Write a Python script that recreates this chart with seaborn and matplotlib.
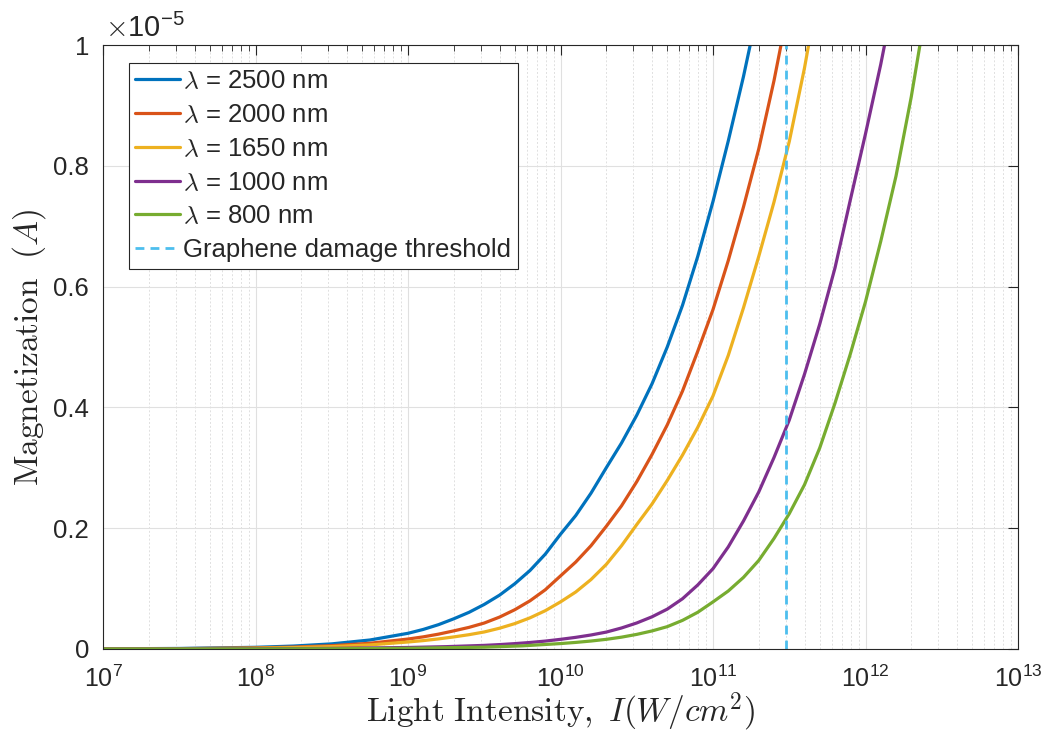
import numpy as np
import pandas as pd
import matplotlib
matplotlib.use("Agg")
import matplotlib.pyplot as plt
import seaborn as sns
from matplotlib.ticker import FuncFormatter, LogLocator, LogFormatterMathtext, NullFormatter, FixedLocator

# ---- data (intensity as log10 exponent of W/cm^2, magnetization in units of 1e-5 A) ----
labels = [r"$\lambda$ = 2500 nm", r"$\lambda$ = 2000 nm", r"$\lambda$ = 1650 nm",
          r"$\lambda$ = 1000 nm", r"$\lambda$ = 800 nm"]
colors = ["#0072BD", "#D95319", "#EDB120", "#7E2F8E", "#77AC30"]

exp_2500 = [7.0, 7.5, 8.0, 8.25, 8.5, 8.75, 9.0, 9.1, 9.2, 9.3, 9.4, 9.5, 9.6, 9.7, 9.8, 9.9, 10.0, 10.1,
            10.2, 10.3, 10.4, 10.5, 10.6, 10.7, 10.8, 10.9, 11.0, 11.1, 11.2, 11.244]
mag_2500 = [0.0003, 0.0009, 0.0028, 0.0049, 0.0085, 0.0149, 0.026, 0.0324, 0.0403, 0.050, 0.0607, 0.0738,
            0.0891, 0.108, 0.130, 0.157, 0.190, 0.221, 0.258, 0.300, 0.341, 0.387, 0.439, 0.500, 0.569,
            0.650, 0.741, 0.841, 0.948, 1.00]

exp_2000 = [7.0, 7.5, 8.0, 8.25, 8.5, 8.75, 9.0, 9.1, 9.2, 9.3, 9.4, 9.5, 9.6, 9.7, 9.8, 9.9, 10.0, 10.1,
            10.2, 10.3, 10.4, 10.5, 10.6, 10.7, 10.8, 10.9, 11.0, 11.1, 11.2, 11.3, 11.4, 11.446]
mag_2000 = [0.0002, 0.0006, 0.0018, 0.0032, 0.0055, 0.0095, 0.0165, 0.0201, 0.0246, 0.030, 0.0358, 0.0430,
            0.0528, 0.065, 0.0798, 0.098, 0.121, 0.144, 0.171, 0.203, 0.237, 0.277, 0.322, 0.371, 0.427,
            0.493, 0.562, 0.643, 0.732, 0.828, 0.941, 1.00]

exp_1650 = [7.0, 7.5, 8.0, 8.25, 8.5, 8.75, 9.0, 9.1, 9.2, 9.3, 9.4, 9.5, 9.6, 9.7, 9.8, 9.9, 10.0, 10.1,
            10.2, 10.3, 10.4, 10.5, 10.6, 10.7, 10.8, 10.9, 11.0, 11.1, 11.2, 11.3, 11.4, 11.5, 11.6, 11.627]
mag_1650 = [0.00013, 0.0004, 0.0013, 0.0023, 0.004, 0.0068, 0.0116, 0.0139, 0.0167, 0.020, 0.0237, 0.0282,
            0.0344, 0.042, 0.0516, 0.0634, 0.078, 0.0944, 0.115, 0.140, 0.171, 0.206, 0.240, 0.279, 0.321,
            0.367, 0.419, 0.486, 0.565, 0.650, 0.740, 0.840, 0.962, 1.00]

exp_1000 = [7.0, 8.0, 8.5, 9.0, 9.25, 9.5, 9.6, 9.7, 9.8, 9.9, 10.0, 10.1, 10.2, 10.3, 10.4, 10.5, 10.6,
            10.7, 10.8, 10.9, 11.0, 11.1, 11.2, 11.3, 11.4, 11.5, 11.6, 11.7, 11.8, 11.9, 12.0, 12.1, 12.125]
mag_1000 = [0.00005, 0.0004, 0.001, 0.0025, 0.0039, 0.006, 0.0073, 0.0089, 0.0108, 0.0131, 0.016, 0.0193,
            0.0232, 0.028, 0.0348, 0.0431, 0.0533, 0.066, 0.0832, 0.106, 0.133, 0.169, 0.212, 0.260,
            0.317, 0.379, 0.455, 0.538, 0.631, 0.743, 0.853, 0.968, 1.00]

exp_800 = [7.0, 8.0, 8.5, 9.0, 9.5, 9.75, 10.0, 10.1, 10.2, 10.3, 10.4, 10.5, 10.6, 10.7, 10.8, 10.9,
           11.0, 11.1, 11.2, 11.3, 11.4, 11.5, 11.6, 11.7, 11.8, 11.9, 12.0, 12.1, 12.2, 12.3, 12.357]
mag_800 = [0.00002, 0.00015, 0.0004, 0.0012, 0.003, 0.0052, 0.009, 0.0109, 0.0132, 0.016, 0.0196, 0.0242,
           0.0299, 0.037, 0.0474, 0.0608, 0.078, 0.096, 0.1186, 0.1466, 0.183, 0.224, 0.272, 0.333,
           0.407, 0.488, 0.575, 0.675, 0.783, 0.914, 1.00]

threshold_intensity = 3e11
threshold_label = "Graphene damage threshold"
x_tick_exponents = [7, 8, 9, 10, 11, 12, 13]
y_ticks = [0, 0.2, 0.4, 0.6, 0.8, 1.0]
y_scale = 1e-5

series = [(exp_2500, mag_2500), (exp_2000, mag_2000), (exp_1650, mag_1650),
          (exp_1000, mag_1000), (exp_800, mag_800)]

# ---- style ----
sns.set_theme(style="white")
plt.rcParams['font.family'] = ['Liberation Sans', 'DejaVu Sans']
plt.rcParams['mathtext.fontset'] = 'cm'
axis_col = "#262626"

fig = plt.figure(figsize=(10.55, 7.47), dpi=100)
ax = fig.add_axes([103/1055, 1 - 649/747, (1018 - 103)/1055, (649 - 45)/747])

for (ex, mg), lab, col in zip(series, labels, colors):
    df = pd.DataFrame({"I": 10.0 ** np.array(ex), "M": np.array(mg) * y_scale})
    sns.lineplot(data=df, x="I", y="M", color=col, linewidth=2.3, label=lab,
                 estimator=None, sort=False, ax=ax)

ax.axvline(threshold_intensity, color="#4DBEEE", linestyle=(0, (3.2, 2.2)), linewidth=2.0,
           label=threshold_label)

ax.set_xscale("log")
ax.set_xlim(10.0 ** x_tick_exponents[0], 10.0 ** x_tick_exponents[-1])
ax.set_ylim(0, 1.0 * y_scale)

ax.xaxis.set_major_locator(FixedLocator([10.0 ** e for e in x_tick_exponents]))
ax.xaxis.set_major_formatter(LogFormatterMathtext())
minor_pos = [m * 10.0 ** e for e in x_tick_exponents[:-1] for m in range(2, 10)]
ax.xaxis.set_minor_locator(FixedLocator(minor_pos))
ax.xaxis.set_minor_formatter(NullFormatter())
ax.yaxis.set_major_locator(FixedLocator([t * y_scale for t in y_ticks]))
ax.yaxis.set_major_formatter(FuncFormatter(lambda v, p: f"{v / y_scale:g}"))
ax.yaxis.get_offset_text().set_visible(False)
ax.xaxis.get_offset_text().set_visible(False)

ax.grid(True, which="major", color="#e0e0e0", linewidth=0.8, linestyle="-")
ax.grid(True, which="minor", axis="x", color="#e0e0e0", linewidth=0.7, linestyle=(0, (2, 2)))
ax.set_axisbelow(True)

ax.tick_params(axis="both", which="both", direction="in", top=True, right=True,
               colors=axis_col)
ax.tick_params(axis="x", which="major", labelsize=18, pad=12)
ax.tick_params(axis="y", which="major", labelsize=18.5, pad=10)
ax.tick_params(axis="both", which="major", length=7, width=0.8)
ax.tick_params(axis="x", which="minor", length=4, width=0.6)
for s in ax.spines.values():
    s.set_color(axis_col)
    s.set_linewidth(0.8)

ax.set_xlabel(r"$\mathrm{Light\ Intensity,}\ I(W/cm^2)$", fontsize=24, color=axis_col, labelpad=-1)
ax.set_ylabel(r"$\mathrm{Magnetization}\ \ (A)$", fontsize=24, color=axis_col, labelpad=4)

fig.text(105/1055, 1 - 37/747, r"$\times\mathdefault{10^{-5}}$", fontsize=21, color=axis_col,
         ha="left", va="baseline")

leg = ax.legend(loc="upper left", bbox_to_anchor=(26/915, 1 - 18/604), borderaxespad=0,
                fontsize=18.5, frameon=True, fancybox=False, edgecolor=axis_col,
                handlelength=1.75, handletextpad=0.12, labelspacing=0.38,
                borderpad=0.25, framealpha=1)
leg.get_frame().set_linewidth(0.8)

fig.savefig("out.png", dpi=100)
